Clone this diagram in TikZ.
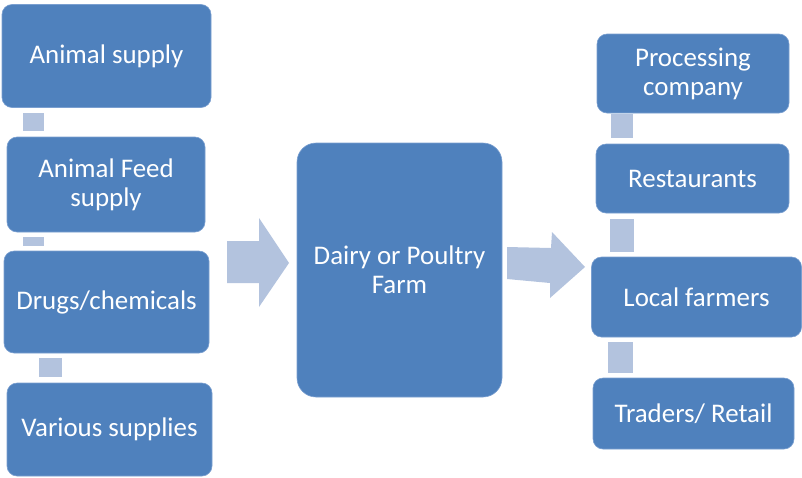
\documentclass[tikz,border=0pt]{standalone}
\usepackage{fontspec}
\setmainfont{Carlito}
\definecolor{boxblue}{HTML}{4F81BD}
\definecolor{boxedge}{HTML}{7A9FD0}
\definecolor{linkblue}{HTML}{B3C3DE}
\tikzset{
  box/.style={fill=boxblue, draw=boxedge, line width=0.6pt, rounded corners=10pt,
    inner sep=0pt, align=center, text=white,
    font=\fontsize{26.9}{29}\selectfont},
  hub/.style={box, rounded corners=19pt},
  link/.style={fill=linkblue},
}
\begin{document}
\begin{tikzpicture}[x=1pt,y=-1pt]
\useasboundingbox (0,0) rectangle (802,477);

% inputs
\node[box, minimum width=209pt, minimum height=103pt] (a1) at (106.5,56) {Animal supply};
\node[box, minimum width=198pt, minimum height=95pt] (a2) at (106,184.5) {Animal Feed\\supply};
\node[box, minimum width=205pt, minimum height=102pt] (a3) at (106.5,302) {Drugs/chemicals};
\node[box, minimum width=205pt, minimum height=93pt] (a4) at (109.5,429.5) {Various supplies};

% farm
\node[hub, minimum width=205pt, minimum height=254pt] (farm) at (399.5,270) {Dairy or Poultry\\Farm};

% outlets
\node[box, minimum width=192pt, minimum height=79pt] (r1) at (693,73.5) {Processing\\company};
\node[box, minimum width=193pt, minimum height=69pt] (r2) at (692.5,178.5) {Restaurants};
\node[box, minimum width=210pt, minimum height=80pt] (r3) at (696.5,297) {Local farmers};
\node[box, minimum width=201pt, minimum height=71pt] (r4) at (693.5,413.5) {Traders/ Retail};

% links between stacked boxes
\fill[link] (23,113) rectangle (44,131);
\fill[link] (23,237) rectangle (44,246);
\fill[link] (39,358) rectangle (62,377);
\fill[link] (611,114) rectangle (633,138);
\fill[link] (610,219) rectangle (634,252);
\fill[link] (608,342) rectangle (633,373);

% block arrows
\fill[link] (227,241) -- (259,241) -- (259,218) -- (289,263) -- (259,307) -- (259,283) -- (227,283) -- cycle;
\fill[link] (507,247) -- (551,248) -- (552,232) -- (585,267) -- (550,298) -- (550,283) -- (507,279) -- cycle;
\end{tikzpicture}
\end{document}
